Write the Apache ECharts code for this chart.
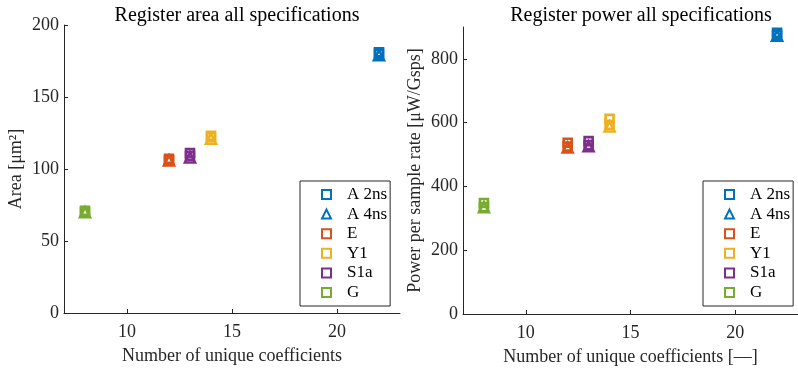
<!DOCTYPE html>
<html><head><meta charset="utf-8">
<script src="https://cdn.jsdelivr.net/npm/echarts@6/dist/echarts.min.js"></script>
<style>html,body{margin:0;padding:0;background:#fff}#c{width:798px;height:368px}</style>
</head><body><div id="c"></div>
<script>
// ---- data ----
const groups = ['A', 'E', 'Y1', 'S1a', 'G'];
const coeffs = [22, 12, 14, 13, 8];           // number of unique coefficients
const legendNames = ['A 2ns', 'A 4ns', 'E', 'Y1', 'S1a', 'G'];
// area [um^2]: square markers (several runs) and triangle markers
const areaSquares = [[180, 181], [106, 107], [122, 123], [109, 111], [70, 71]];
const areaTriangles = [[179], [106], [121], [108], [70]];
// power per sample rate [uW/Gsps]
const powerSquares = [[875, 882], [525, 537], [593, 612], [530, 542], [335, 348]];
const powerTriangles = [[873], [522], [588], [526], [335]];
const xTicks = [10, 15, 20];
const areaTicks = [0, 50, 100, 150, 200];
const powerTicks = [0, 200, 400, 600, 800];

const colors = ['#0072BD', '#D95319', '#EDB120', '#7E2F8E', '#77AC30'];
const FONT = '"Liberation Serif", "Times New Roman", serif';
const AX = '#262626';

function xAxis(gi, name) {
  return {
    type: 'value', gridIndex: gi, min: 7, max: 23, name: name,
    nameLocation: 'middle', nameGap: 34,
    nameTextStyle: {fontFamily: FONT, fontSize: 18, color: AX},
    axisLine: {show: true, onZero: false, lineStyle: {color: AX, width: 1}},
    axisTick: {show: true, inside: true, length: 4, lineStyle: {color: AX}, customValues: xTicks},
    axisLabel: {fontFamily: FONT, fontSize: 18, color: AX, margin: 10, customValues: xTicks},
    splitLine: {show: false}
  };
}
function yAxis(gi, max, ticks, name, gap) {
  return {
    type: 'value', gridIndex: gi, min: 0, max: max, name: name,
    nameLocation: 'middle', nameGap: gap, nameRotate: 90,
    nameTextStyle: {fontFamily: FONT, fontSize: 18, color: AX},
    axisLine: {show: true, onZero: false, lineStyle: {color: AX, width: 1}},
    axisTick: {show: true, inside: true, length: 4, lineStyle: {color: AX}, customValues: ticks},
    axisLabel: {fontFamily: FONT, fontSize: 18, color: AX, margin: 5, customValues: ticks},
    splitLine: {show: false}
  };
}

const series = [];
function addSeries(gi, squares, triangles) {
  groups.forEach((g, i) => {
    const sqName = g === 'A' ? 'A 2ns' : g;
    series.push({
      type: 'scatter', name: sqName, xAxisIndex: gi, yAxisIndex: gi,
      symbol: 'rect', symbolSize: 8,
      itemStyle: {color: 'rgba(255,255,255,0)', borderColor: colors[i], borderWidth: 2.6, opacity: 1},
      data: squares[i].map(v => [coeffs[i], v]), z: 3
    });
    const triName = g === 'A' ? 'A 4ns' : g + ' tri';
    series.push({
      type: 'scatter', name: triName, xAxisIndex: gi, yAxisIndex: gi,
      symbol: 'triangle', symbolSize: 10,
      itemStyle: {color: 'rgba(255,255,255,0)', borderColor: colors[i], borderWidth: 2.6, opacity: 1},
      data: triangles[i].map(v => [coeffs[i], v]), z: 3
    });
  });
}
addSeries(0, areaSquares, areaTriangles);
addSeries(1, powerSquares, powerTriangles);

function legend(left) {
  return {
    data: legendNames, orient: 'vertical', left: left, top: 181,
    itemWidth: 9, itemHeight: 9, itemGap: 2.6,
    padding: [5, 3, 5, 21], borderColor: AX, borderWidth: 1, backgroundColor: '#fff',
    selectedMode: false,
    textStyle: {fontFamily: FONT, fontSize: 17, color: '#000', lineHeight: 16, padding: [0, 0, 0, 11]}
  };
}

const chart = echarts.init(document.getElementById('c'), null, {renderer: 'canvas'});
chart.setOption({
  animation: false,
  backgroundColor: '#fff',
  title: [
    {text: 'Register area all specifications', left: 232, top: 1, textAlign: 'center',
     textStyle: {fontFamily: FONT, fontSize: 20, fontWeight: 'normal', color: '#000'}},
    {text: 'Register power all specifications', left: 636, top: 1, textAlign: 'center',
     textStyle: {fontFamily: FONT, fontSize: 20, fontWeight: 'normal', color: '#000'}}
  ],
  grid: [
    {left: 64, top: 25, width: 336, height: 288, outerBoundsMode: 'none', containLabel: false},
    {left: 463, top: 27, width: 335, height: 287, outerBoundsMode: 'none', containLabel: false}
  ],
  xAxis: [xAxis(0, 'Number of unique coefficients'), xAxis(1, 'Number of unique coefficients [—]')],
  yAxis: [yAxis(0, 200, areaTicks, 'Area [μm²]', 39), yAxis(1, 900, powerTicks, 'Power per sample rate [μW/Gsps]', 39)],
  legend: [legend(300), legend(703)],
  series: series
});
</script></body></html>
